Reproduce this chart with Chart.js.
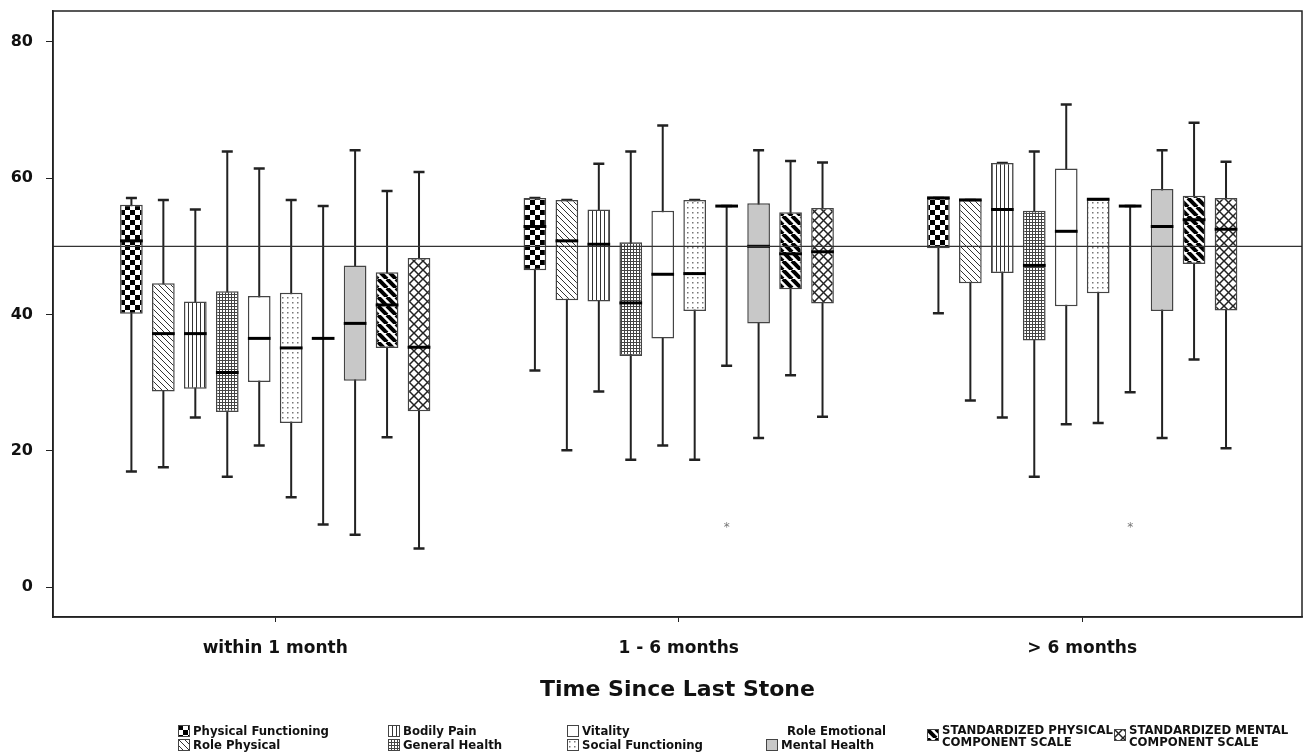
<!DOCTYPE html>
<html>
<head>
<meta charset="utf-8">
<script src="https://cdn.jsdelivr.net/npm/chart.js@4.4.0/dist/chart.umd.min.js"></script>
<style>
  body { margin: 0; background: #fff; }
  #wrap { position: relative; width: 1307px; height: 756px; }
  .lg { position: absolute; font-family: "DejaVu Sans Condensed", "DejaVu Sans", sans-serif; font-stretch: condensed;
        font-weight: bold; font-size: 13px; line-height: 14px; color: #111; white-space: nowrap; }
  .lg canvas { position: absolute; left: 0; top: 1px; }
</style>
</head>
<body>
<div id="wrap">
  <canvas id="boxChart" width="1307" height="756"></canvas>
  <div id="legend"></div>
</div>
<script>
// Grupos y series
var groups = ['within 1 month', '1 - 6 months', '> 6 months'];
var seriesNames = ['Physical Functioning', 'Role Physical', 'Bodily Pain', 'General Health', 'Vitality',
                   'Social Functioning', 'Role Emotional', 'Mental Health',
                   'STANDARDIZED PHYSICAL COMPONENT SCALE', 'STANDARDIZED MENTAL COMPONENT SCALE'];

// Valores por serie: [within 1 month, 1 - 6 months, > 6 months]
var whiskerLow = [[17.0, 31.8, 40.2], [17.6, 20.1, 27.4], [24.9, 28.7, 24.9], [16.2, 18.7, 16.2], [20.8, 20.8, 23.9],
                  [13.2, 18.7, 24.1], [9.2, 32.5, 28.6], [7.7, 21.9, 21.9], [22.0, 31.1, 33.4], [5.7, 25.0, 20.4]];
var q1 = [[40.1, 46.5, 49.7], [28.7, 42.1, 44.6], [29.1, 41.9, 46.1], [25.7, 33.9, 36.2], [30.1, 36.5, 41.2],
          [24.1, 40.5, 43.1], [36.5, 55.9, 55.9], [30.3, 38.7, 40.5], [35.1, 43.7, 47.4], [25.8, 41.6, 40.6]];
var medians = [[50.8, 52.9, 57.1], [37.2, 50.8, 56.8], [37.2, 50.3, 55.4], [31.5, 41.7, 47.2], [36.5, 45.9, 52.2],
               [35.1, 46.0, 56.9], [36.5, 55.9, 55.9], [38.7, 50.0, 52.9], [41.4, 48.9, 53.9], [35.2, 49.2, 52.5]];
var q3 = [[56.1, 57.1, 57.1], [44.6, 56.8, 56.8], [41.9, 55.4, 62.2], [43.4, 50.6, 55.2], [42.7, 55.2, 61.4],
          [43.2, 56.8, 56.9], [36.5, 55.9, 55.9], [47.2, 56.3, 58.4], [46.2, 55.0, 57.4], [48.3, 55.6, 57.1]];
var whiskerHigh = [[57.1, 57.1, 57.1], [56.8, 56.8, 56.8], [55.4, 62.1, 62.2], [63.9, 63.9, 63.9], [61.4, 67.7, 70.8],
                   [56.8, 56.8, 56.9], [55.9, 55.9, 55.9], [64.1, 64.1, 64.1], [58.1, 62.5, 68.1], [60.9, 62.3, 62.4]];

// Valores atipicos (serie, grupo, valor)
var outlierSeries = [6, 6];
var outlierGroup = [1, 2];
var outlierValue = [9.1, 9.1];

var yTicks = [0, 20, 40, 60, 80];
var referenceValue = 50;

// Tramas de relleno
function tile(size, draw) {
    var c = document.createElement('canvas');
    c.width = size; c.height = size;
    var g = c.getContext('2d');
    g.fillStyle = '#fff';
    g.fillRect(0, 0, size, size);
    draw(g, size);
    return c;
}
function diag(g, s, color, w, back) {
    g.strokeStyle = color; g.lineWidth = w;
    for (var o = -s; o <= s; o += s) {
        g.beginPath();
        if (back) { g.moveTo(o, 0); g.lineTo(o + s, s); }
        else { g.moveTo(o, s); g.lineTo(o + s, 0); }
        g.stroke();
    }
}
var tiles = [
    tile(10, function (g) { g.fillStyle = '#000'; g.fillRect(0, 0, 5, 5); g.fillRect(5, 5, 5, 5); }),
    tile(6, function (g, s) { diag(g, s, '#333', 1, true); }),
    tile(4, function (g) { g.fillStyle = '#333'; g.fillRect(0, 0, 1, 4); }),
    tile(3, function (g) { g.fillStyle = '#444'; g.fillRect(0, 0, 3, 1); g.fillRect(0, 0, 1, 3); }),
    tile(4, function () {}),
    tile(5, function (g) { g.fillStyle = '#777'; g.fillRect(2, 2, 1.5, 1.5); }),
    tile(4, function () {}),
    tile(4, function (g) { g.fillStyle = '#c8c8c8'; g.fillRect(0, 0, 4, 4); }),
    tile(9, function (g, s) { diag(g, s, '#000', 4, true); }),
    tile(9, function (g, s) { diag(g, s, '#222', 1.5, true); diag(g, s, '#222', 1.5, false); })
];

var ctx = document.getElementById('boxChart').getContext('2d');
var patterns = tiles.map(function (t) { return ctx.createPattern(t, 'repeat'); });

var datasets = seriesNames.map(function (name, s) {
    return {
        label: name,
        data: groups.map(function (g, i) { return { x: i, y: [q1[s][i], q3[s][i]] }; }),
        backgroundColor: patterns[s],
        borderColor: '#444',
        borderWidth: 1.5,
        borderSkipped: false,
        categoryPercentage: 0.792,
        barPercentage: 0.71
    };
});

// Bigotes, medianas, linea de referencia y marco
var boxParts = {
    id: 'boxParts',
    beforeDatasetsDraw: function (chart) {
        var c = chart.ctx, y = chart.scales.y;
        c.save();
        c.strokeStyle = '#222';
        chart.data.datasets.forEach(function (ds, s) {
            chart.getDatasetMeta(s).data.forEach(function (bar, i) {
                var top = y.getPixelForValue(whiskerHigh[s][i]);
                var bot = y.getPixelForValue(whiskerLow[s][i]);
                c.lineWidth = 2;
                c.beginPath(); c.moveTo(bar.x, top); c.lineTo(bar.x, bot); c.stroke();
                c.lineWidth = 2.5;
                c.beginPath();
                c.moveTo(bar.x - 5.5, top); c.lineTo(bar.x + 5.5, top);
                c.moveTo(bar.x - 5.5, bot); c.lineTo(bar.x + 5.5, bot);
                c.stroke();
            });
        });
        c.restore();
    },
    afterDatasetsDraw: function (chart) {
        var c = chart.ctx, y = chart.scales.y, a = chart.chartArea;
        c.save();
        c.strokeStyle = '#000';
        c.lineWidth = 3;
        chart.data.datasets.forEach(function (ds, s) {
            chart.getDatasetMeta(s).data.forEach(function (bar, i) {
                var m = y.getPixelForValue(medians[s][i]);
                c.beginPath(); c.moveTo(bar.x - bar.width / 2, m); c.lineTo(bar.x + bar.width / 2, m); c.stroke();
            });
        });
        // linea de referencia
        var r = y.getPixelForValue(referenceValue);
        c.strokeStyle = '#333'; c.lineWidth = 1.2;
        c.beginPath(); c.moveTo(a.left, r); c.lineTo(a.right, r); c.stroke();
        // atipicos
        c.fillStyle = '#777';
        c.font = '12px "DejaVu Sans"';
        c.textAlign = 'center'; c.textBaseline = 'middle';
        outlierValue.forEach(function (v, k) {
            var bar = chart.getDatasetMeta(outlierSeries[k]).data[outlierGroup[k]];
            c.fillText('*', bar.x, y.getPixelForValue(v) + 3);
        });
        // marco
        c.strokeStyle = '#222'; c.lineWidth = 1.5;
        c.strokeRect(a.left, a.top, a.right - a.left, a.bottom - a.top);
        c.restore();
    }
};

var chart = new Chart(ctx, {
    type: 'bar',
    data: { datasets: datasets },
    options: {
        responsive: false,
        animation: false,
        devicePixelRatio: 1,
        layout: { padding: { left: 0, right: 5, top: 11, bottom: 50 } },
        plugins: { legend: { display: false }, tooltip: { enabled: false } },
        scales: {
            x: {
                type: 'linear',
                min: -0.5507,
                max: 2.5447,
                offset: false,
                afterBuildTicks: function (s) { s.ticks = groups.map(function (g, i) { return { value: i }; }); },
                afterFit: function (s) { s.height = 89; s.paddingLeft = 0; s.paddingRight = 0; },
                grid: { display: true, drawOnChartArea: false, offset: false, tickLength: 5, color: '#222' },
                border: { display: true, color: '#222', width: 1.5 },
                ticks: {
                    autoSkip: false, maxRotation: 0, padding: 16, color: '#111',
                    font: { family: 'DejaVu Sans', weight: 'bold', size: 17 },
                    callback: function (v) { return groups[v]; }
                },
                title: {
                    display: true, text: 'Time Since Last Stone', color: '#111',
                    font: { family: 'DejaVu Sans', weight: 'bold', size: 22 },
                    padding: { top: 0, bottom: 3 }
                }
            },
            y: {
                min: -4.35,
                max: 84.5,
                afterBuildTicks: function (s) { s.ticks = yTicks.map(function (v) { return { value: v }; }); },
                afterFit: function (s) { s.width = 53; s.paddingTop = 0; s.paddingBottom = 0; },
                grid: { display: true, drawOnChartArea: false, tickLength: 7, color: '#222' },
                border: { display: true, color: '#222', width: 1.5 },
                ticks: {
                    padding: 13, color: '#111',
                    font: { family: 'DejaVu Sans', weight: 'bold', size: 16 }
                }
            }
        }
    },
    plugins: [boxParts]
});

// Leyenda (HTML)
var legendItems = [
    { s: 0, x: 178, y: 724, icon: true }, { s: 1, x: 178, y: 738, icon: true },
    { s: 2, x: 388, y: 724, icon: true }, { s: 3, x: 388, y: 738, icon: true },
    { s: 4, x: 567, y: 724, icon: true }, { s: 5, x: 567, y: 738, icon: true },
    { s: 6, x: 772, y: 724, icon: false }, { s: 7, x: 766, y: 738, icon: true },
    { s: 8, x: 927, y: 724, icon: true, lines: ['STANDARDIZED PHYSICAL', 'COMPONENT SCALE'] },
    { s: 9, x: 1114, y: 724, icon: true, lines: ['STANDARDIZED MENTAL', 'COMPONENT SCALE'] }
];
var legend = document.getElementById('legend');
legendItems.forEach(function (it) {
    var d = document.createElement('div');
    d.className = 'lg';
    d.style.left = it.x + 'px';
    d.style.top = it.y + 'px';
    d.style.paddingLeft = '15px';
    if (it.lines) { d.style.lineHeight = '12px'; d.innerHTML = it.lines.join('<br>'); }
    else d.textContent = seriesNames[it.s];
    if (it.icon) {
        var ic = document.createElement('canvas');
        ic.width = 12; ic.height = 12;
        var g = ic.getContext('2d');
        g.fillStyle = g.createPattern(tiles[it.s], 'repeat');
        g.fillRect(0, 0, 12, 12);
        g.strokeStyle = '#444'; g.lineWidth = 1;
        g.strokeRect(0.5, 0.5, 11, 11);
        if (it.lines) ic.style.top = '5px';
        d.appendChild(ic);
    }
    legend.appendChild(d);
});
</script>
</body>
</html>
